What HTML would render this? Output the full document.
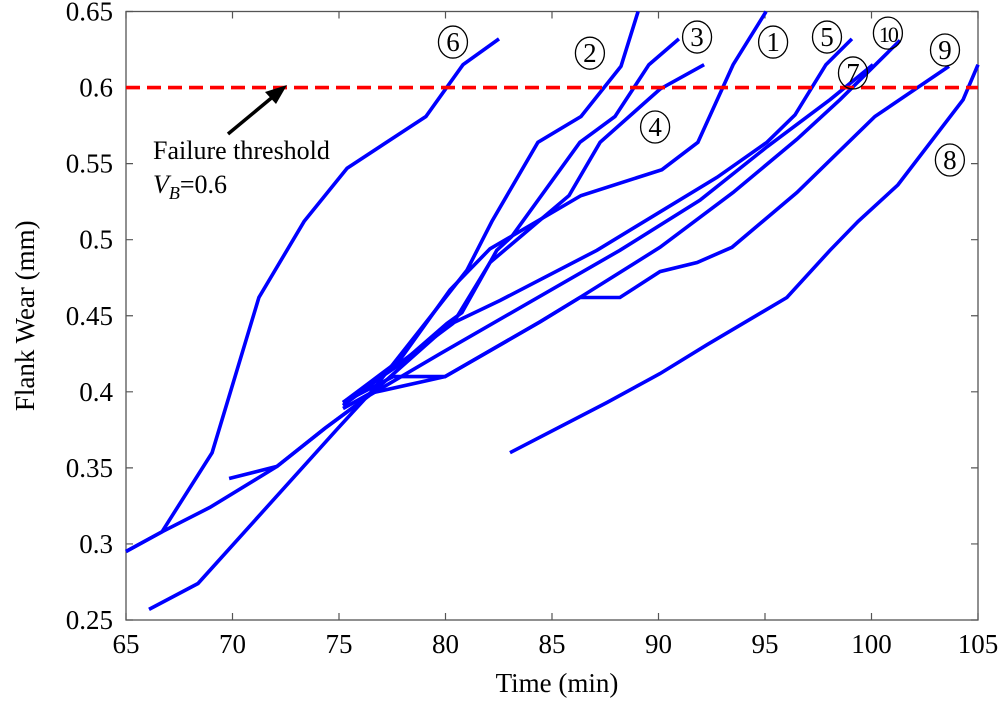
<!DOCTYPE html>
<html><head><meta charset="utf-8"><style>
body{margin:0;background:#fff;}
svg{display:block;font-family:"Liberation Serif","DejaVu Serif",serif;}
text{font-family:"Liberation Serif","DejaVu Serif",serif;}
</style></head><body>
<svg id="chart" width="1000" height="706" viewBox="0 0 1000 706">
<g id="axes"></g><g id="series"></g><g id="labels"></g>
</svg>
<script>
const xTicks=[65,70,75,80,85,90,95,100,105];
const yTicks=[0.25,0.3,0.35,0.4,0.45,0.5,0.55,0.6,0.65];
const yTickLabels=["0.25","0.3","0.35","0.4","0.45","0.5","0.55","0.6","0.65"];
const threshold=0.6;
const s1t=[75.19,77.86,80.21,82.09,86.36,90.16,91.85,93.50,95.05];
const s1w=[0.393,0.421,0.467,0.494,0.529,0.546,0.564,0.615,0.650];
const s2t=[75.19,76.46,79.27,81.01,82.18,84.34,86.36,88.24,89.04];
const s2w=[0.389,0.399,0.449,0.480,0.512,0.564,0.581,0.614,0.650];
const s3t=[75.19,77.86,80.07,80.77,82.41,83.11,86.31,87.96,89.55,90.96];
const s3w=[0.393,0.418,0.445,0.452,0.493,0.502,0.564,0.581,0.615,0.632];
const s4t=[75.19,80.35,82.09,85.80,87.26,90.07,92.14];
const s4w=[0.391,0.445,0.485,0.529,0.564,0.599,0.615];
const s5t=[69.84,72.09,74.34,76.36,79.74,80.31,82.56,87.11,90.40,92.75,95.09,96.41,97.86,99.08];
const s5w=[0.343,0.351,0.376,0.397,0.439,0.445,0.460,0.493,0.521,0.541,0.564,0.582,0.615,0.632];
const s6t=[65.0,66.69,69.04,71.24,73.36,75.38,79.08,80.82,82.51];
const s6w=[0.295,0.308,0.360,0.462,0.512,0.547,0.581,0.615,0.632];
const s7t=[65,66.69,68.94,72.09,74.34,76.46,79.74,88.19,91.95,95.09,98.05,100.07];
const s7w=[0.295,0.308,0.324,0.351,0.376,0.398,0.425,0.493,0.526,0.561,0.592,0.615];
const s8t=[83.03,87.58,90.07,92.28,96.03,98.05,99.37,101.24,104.30,105.0];
const s8w=[0.360,0.393,0.412,0.431,0.462,0.493,0.512,0.536,0.592,0.615];
const s9t=[75.19,77.54,79.98,84.44,86.31,88.19,90.07,91.81,93.45,96.50,100.16,103.64];
const s9w=[0.393,0.410,0.410,0.446,0.462,0.462,0.479,0.485,0.495,0.531,0.581,0.614];
const s10t=[66.08,68.38,74.95,76.46,79.98,84.44,86.31,90.07,93.50,96.50,98.52,101.34];
const s10w=[0.257,0.274,0.376,0.399,0.410,0.446,0.462,0.495,0.531,0.566,0.592,0.631];
const seriesNames=["1","2","3","4","5","6","7","8","9","10"];
const seriesT=[s1t,s2t,s3t,s4t,s5t,s6t,s7t,s8t,s9t,s10t];
const seriesW=[s1w,s2w,s3w,s4w,s5w,s6w,s7w,s8w,s9w,s10w];
const labelT=[95.38,86.78,91.81,89.84,97.91,80.35,99.13,103.68,103.45,100.77];
const labelW=[0.6299,0.6226,0.6332,0.5741,0.6332,0.6299,0.6096,0.5524,0.6247,0.6358];

const X0=126,X1=978,Y0=620,Y1=11.5;
function xs(t){return X0+(t-65)/(105-65)*(X1-X0);}
function ys(w){return Y0-(w-0.25)/(0.65-0.25)*(Y0-Y1);}
const NS="http://www.w3.org/2000/svg";
const FF='"Liberation Serif","DejaVu Serif",serif';
function mk(tag,attrs,parent){const e=document.createElementNS(NS,tag);for(const k in attrs)e.setAttribute(k,attrs[k]);parent.appendChild(e);return e;}
const axes=document.getElementById('axes'),ser=document.getElementById('series'),lab=document.getElementById('labels');

const frame=mk('rect',{x:X0,y:Y1,width:X1-X0,height:Y0-Y1,fill:'none',stroke:'#555','stroke-width':1.3},axes);


xTicks.forEach((t,i)=>{
  const x=xs(t);
  const tk=mk('path',{d:`M${x},${Y0}V${Y0-7}M${x},${Y1}V${Y1+7}`,stroke:'#555','stroke-width':1.2},axes);
  
  
  const tx=mk('text',{x:x,y:653,'text-anchor':'middle','font-size':27,fill:'#000','font-family':FF},axes);
  tx.textContent=String(t);
  
  
});
yTicks.forEach((w,i)=>{
  const y=ys(w);
  const tk=mk('path',{d:`M${X0},${y}H${X0+7}M${X1},${y}H${X1-7}`,stroke:'#555','stroke-width':1.2},axes);
  
  
  const tx=mk('text',{x:113,y:y+9,'text-anchor':'end','font-size':27,fill:'#000','font-family':FF},axes);
  tx.textContent=yTickLabels[i];
  
  
});
const xl=mk('text',{x:557,y:692,'text-anchor':'middle','font-size':27,fill:'#000','font-family':FF},axes);
xl.textContent='Time (min)';


const yl=mk('text',{x:0,y:0,'text-anchor':'middle','font-size':27,fill:'#000','font-family':FF,transform:`translate(34,${(Y0+Y1)/2}) rotate(-90)`},axes);
yl.textContent='Flank Wear (mm)';



seriesT.forEach((ts,i)=>{
  const ws=seriesW[i];
  const d=ts.map((t,j)=>(j?'L':'M')+xs(t).toFixed(1)+','+ys(ws[j]).toFixed(1)).join('');
  const p=mk('path',{d:d,fill:'none',stroke:'#0000ff','stroke-width':3.6,'stroke-linejoin':'miter'},ser);
  
  
});
const th=mk('line',{x1:X0,x2:X1,y1:ys(threshold),y2:ys(threshold),stroke:'#ff0000','stroke-width':3.6,'stroke-dasharray':'14,7'},ser);



seriesNames.forEach((n,i)=>{
  const cx=xs(labelT[i]),cy=ys(labelW[i]);
  const g=mk('g',{},lab);
  
  
  mk('ellipse',{cx:cx,cy:cy,rx:14.5,ry:16,fill:'none',stroke:'#000','stroke-width':1.3},g);
  const tx=mk('text',{x:cx,y:cy+9,'text-anchor':'middle','font-size':n.length>1?22:27,'letter-spacing':n.length>1?-2:0,fill:'#000','font-family':FF},g);
  tx.textContent=n;
});

const arr=mk('g',{},lab);


mk('line',{x1:228,y1:134,x2:275,y2:95,stroke:'#000','stroke-width':3.5},arr);
mk('polygon',{points:'287,85 265,92 276,104',fill:'#000'},arr);
const a1=mk('text',{x:153,y:159,'font-size':26,fill:'#000','font-family':FF},lab);
a1.textContent='Failure threshold';


const a2=mk('text',{x:153,y:193,'font-size':26,fill:'#000','font-family':FF},lab);
a2.innerHTML='<tspan font-style="italic">V</tspan><tspan font-style="italic" font-size="18" dy="6">B</tspan><tspan dy="-6">=0.6</tspan>';


</script>
</body></html>
